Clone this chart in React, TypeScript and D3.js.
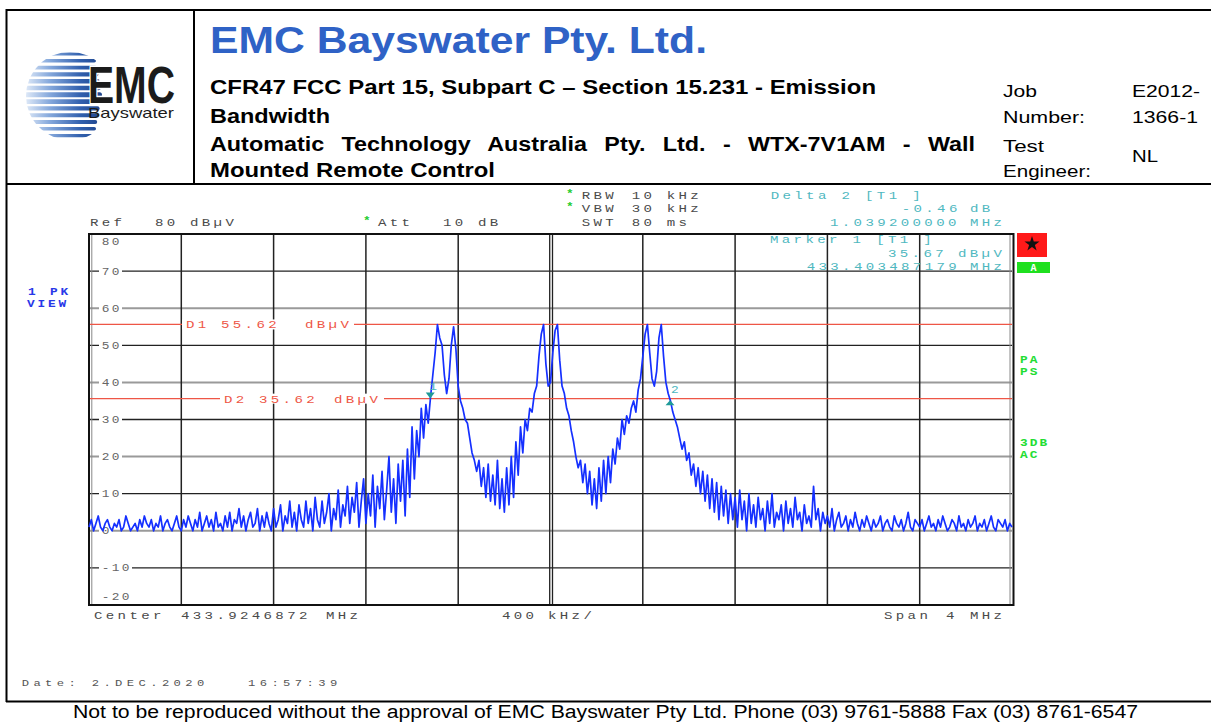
import React, { useEffect, useRef } from "react";
import * as d3 from "d3";

// sweep: 401 points, 10 kHz apart, relative to the centre frequency
const sweepStartKHz = -2000;
const sweepStepKHz = 10;
const traceLevels = [
  1, 3, 0, 2, 4, 1, 0, 2, 3, 1, 0, 2, 1, 3, 0, 1, 4, 2, 0, 1,
  2, 0, 3, 1, 4, 2, 1, 3, 0, 2, 1, 4, 0, 2, 3, 1, 0, 2, 4, 1,
  0, 3, 1, 4, 2, 0, 3, 1, 5, 0, 2, 4, 1, 3, 0, 5, 1, 2, 0, 4,
  1, 5, 0, 3, 2, 6, 1, 4, 0, 3, 5, 1, 2, 6, 0, 4, 1, 5, 2, 0,
  6, 1, 3, 7, 0, 4, 2, 8, 1, 5, 0, 7, 3, 1, 8, 2, 6, 0, 9, 3,
  1, 8, 2, 5, 10, 0, 6, 3, 11, 1, 7, 4, 12, 2, 9, 5, 13, 1, 8, 14,
  2, 10, 4, 15, 1, 12, 6, 16, 3, 11, 20, 5, 14, 2, 18, 8, 19, 4, 22, 9,
  28, 14, 27, 20, 33, 25, 34, 29, 36, 42, 48, 55.6, 52, 50, 42, 37, 41, 50, 55, 49,
  39, 35, 33, 30, 29, 25, 21, 19, 16, 19, 12, 17, 9, 18, 8, 15, 7, 19, 6, 14,
  5, 17, 7, 20, 9, 24, 15, 28, 21, 30, 27, 33, 32, 37, 39, 47, 53, 55.6, 45, 39,
  40, 48, 54, 55.6, 46, 39, 37, 33, 31, 27, 24, 20, 17, 19, 13, 18, 10, 16, 7, 14,
  6, 17, 8, 19, 10, 20, 13, 22, 18, 25, 22, 30, 26, 31, 29, 33, 35, 32, 38, 41,
  47, 53, 55.6, 48, 41, 39, 43, 52, 55.6, 47, 40, 37, 35, 32, 30, 28, 25, 22, 24, 19,
  21, 15, 18, 12, 17, 10, 16, 8, 15, 6, 14, 5, 13, 3, 12, 4, 11, 2, 10, 3,
  9, 1, 11, 3, 8, 0, 10, 2, 7, 1, 9, 3, 6, 0, 8, 2, 10, 1, 5, 3,
  7, 0, 8, 2, 6, 1, 9, 3, 5, 0, 7, 2, 4, 1, 12, 3, 6, 0, 5, 2,
  4, 1, 6, 0, 3, 5, 1, 2, 4, 0, 3, 1, 5, 2, 0, 3, 1, 4, 2, 0,
  3, 1, 2, 4, 0, 2, 3, 1, 0, 4, 2, 1, 3, 0, 2, 5, 1, 0, 3, 2,
  1, 3, 0, 2, 4, 1, 2, 0, 3, 1, 4, 2, 0, 1, 3, 2, 0, 4, 1, 2,
  0, 3, 1, 2, 4, 0, 2, 1, 3, 0, 2, 4, 1, 0, 3, 2, 1, 3, 0, 2,
  1,
];

const yTicks = [70, 60, 50, 40, 30, 20, 10, 0, -10];
const grayTicks = [60, 40, 20, 0];
const xTicks = [-1600, -1200, -800, -400, 400, 800, 1200, 1600];

const displayLines = [
  { name: "D1", level: 55.62, value: "55.62" },
  { name: "D2", level: 35.62, value: "35.62" },
];

const markers = [
  { id: "1", offsetKHz: -521.2, level: 35.67 },
  { id: "2", offsetKHz: 518.0, level: 35.21 },
];

const W = 1211;
const H = 722;
const plot = { left: 89, right: 1012, top: 234, bottom: 605 };

const mono = "'Liberation Mono', 'DejaVu Sans Mono', monospace";
const sans = "'Liberation Sans', Arial, sans-serif";

function Mono({ x, y, text, adv = 11.8, size = 11, sx = 1.28, fill = "#4a4a4a", weight = "normal" }) {
  const ls = adv / sx - size * 0.6;
  return (
    <text
      transform={`translate(${x},${y}) scale(${sx},1)`}
      fontFamily={mono}
      fontSize={size}
      fontWeight={weight}
      fill={fill}
      style={{ letterSpacing: `${ls}px`, whiteSpace: "pre" }}
    >
      {text}
    </text>
  );
}

function Logo() {
  const stripes = d3.range(13);
  return (
    <g>
      <defs>
        <clipPath id="globe">
          <circle cx={70} cy={96} r={44} />
        </clipPath>
        <linearGradient id="stripeGrad" x1="26" x2="104" y1="0" y2="0" gradientUnits="userSpaceOnUse">
          <stop offset="0" stopColor="#dde8f7" />
          <stop offset="0.3" stopColor="#86a9dc" />
          <stop offset="0.7" stopColor="#3160ae" />
          <stop offset="1" stopColor="#1d4288" />
        </linearGradient>
      </defs>
      <g clipPath="url(#globe)">
        {stripes.map((k) => {
          const t = 5 - 0.3 * Math.abs(k - 6);
          const len = 78 - 1.2 * Math.abs(k - 6);
          return <rect key={k} x={24} y={54 + k * 6.8 - t / 2} width={len} height={t} rx={t / 2} fill="url(#stripeGrad)" />;
        })}
      </g>
      <text x={88} y={103} fontFamily={sans} fontWeight="bold" fontSize={52} fill="#1b1b1b"
        textLength={87} lengthAdjust="spacingAndGlyphs" stroke="#fff" strokeWidth={3} style={{ paintOrder: "stroke" }}>EMC</text>
      <text x={88} y={118} fontFamily={sans} fontSize={14.5} fill="#1b1b1b"
        textLength={86} lengthAdjust="spacingAndGlyphs">Bayswater</text>
    </g>
  );
}

export default function App() {
  const autoRef = useRef<SVGTextElement>(null);

  useEffect(() => {
    const el = autoRef.current;
    if (!el) return;
    const target = 765;
    const stretch = 1.167;
    const natural = el.getComputedTextLength();
    const spaces = (el.textContent || "").split(" ").length - 1;
    const extra = (target / stretch - natural) / spaces;
    if (extra > 0) el.setAttribute("word-spacing", String(extra));
    el.setAttribute("textLength", String(target));
    el.setAttribute("lengthAdjust", "spacingAndGlyphs");
  }, []);

  const x = d3.scaleLinear().domain([-2000, 2000]).range([plot.left, plot.right]);
  const y = d3.scaleLinear().domain([-20, 80]).range([plot.bottom, plot.top]);
  const line = d3
    .line<number>()
    .x((_, i) => x(sweepStartKHz + i * sweepStepKHz))
    .y((d) => y(d));

  const teal = "#4fb8bf";
  const red = "#ee5646";

  return (
    <svg width={W} height={H} style={{ position: "absolute", left: 0, top: 0, background: "#fff" }}>
      {/* page frame */}
      <line x1={6} x2={W} y1={10} y2={10} stroke="#000" strokeWidth={2} />
      <line x1={6.5} x2={6.5} y1={9} y2={702} stroke="#000" strokeWidth={2} />
      <line x1={194} x2={194} y1={10} y2={184} stroke="#000" strokeWidth={2} />
      <line x1={6} x2={W} y1={184} y2={184} stroke="#000" strokeWidth={2} />
      <line x1={6} x2={W} y1={701.5} y2={701.5} stroke="#000" strokeWidth={2} />

      <Logo />

      {/* header texts */}
      <text x={210} y={53} fontFamily={sans} fontWeight="bold" fontSize={37} fill="#2f62c6"
        textLength={497} lengthAdjust="spacingAndGlyphs">EMC Bayswater Pty. Ltd.</text>
      <g fontFamily={sans} fontWeight="bold" fontSize={20} fill="#000">
        <text x={210} y={94} textLength={666} lengthAdjust="spacingAndGlyphs">CFR47 FCC Part 15, Subpart C – Section 15.231 - Emission</text>
        <text x={210} y={122.5} textLength={120} lengthAdjust="spacingAndGlyphs">Bandwidth</text>
        <text ref={autoRef} x={210} y={150.7}>Automatic Technology Australia Pty. Ltd. - WTX-7V1AM - Wall</text>
        <text x={210} y={176.7} textLength={285} lengthAdjust="spacingAndGlyphs">Mounted Remote Control</text>
      </g>
      <g fontFamily={sans} fontSize={17} fill="#000">
        <text x={1003} y={96.7} textLength={34} lengthAdjust="spacingAndGlyphs">Job</text>
        <text x={1003} y={123.3} textLength={82} lengthAdjust="spacingAndGlyphs">Number:</text>
        <text x={1003} y={151.7} textLength={41} lengthAdjust="spacingAndGlyphs">Test</text>
        <text x={1003} y={176.7} textLength={88} lengthAdjust="spacingAndGlyphs">Engineer:</text>
        <text x={1132} y={96.7} textLength={68} lengthAdjust="spacingAndGlyphs">E2012-</text>
        <text x={1132} y={123.3} textLength={66} lengthAdjust="spacingAndGlyphs">1366-1</text>
        <text x={1132} y={161.7} textLength={26} lengthAdjust="spacingAndGlyphs">NL</text>
      </g>

      {/* analyser settings */}
      <Mono x={90} y={226} text="Ref" />
      <Mono x={155} y={226} text="80" />
      <Mono x={190} y={226} text="dBµV" />
      <Mono x={363} y={224} text="*" fill="#22cc33" size={10} weight="bold" />
      <Mono x={378} y={226} text="Att" />
      <Mono x={443} y={226} text="10" />
      <Mono x={478} y={226} text="dB" />

      <Mono x={566} y={197} text="*" fill="#22cc33" size={10} weight="bold" />
      <Mono x={581.7} y={199} text="RBW" />
      <Mono x={631.7} y={199} text="10" />
      <Mono x={666.7} y={199} text="kHz" />
      <Mono x={566} y={210.3} text="*" fill="#22cc33" size={10} weight="bold" />
      <Mono x={581.7} y={212.3} text="VBW" />
      <Mono x={631.7} y={212.3} text="30" />
      <Mono x={666.7} y={212.3} text="kHz" />
      <Mono x={581.7} y={225.7} text="SWT" />
      <Mono x={631.7} y={225.7} text="80" />
      <Mono x={666.7} y={225.7} text="ms" />

      <Mono x={770.7} y={199} text="Delta 2 [T1 ]" fill={teal} />
      <Mono x={901.7} y={212.3} text="-0.46" fill={teal} />
      <Mono x={970} y={212.3} text="dB" fill={teal} />
      <Mono x={830} y={225.7} text="1.039200000" fill={teal} />
      <Mono x={970} y={225.7} text="MHz" fill={teal} />

      {/* grid */}
      {yTicks.map((v) => (
        <line key={v} x1={plot.left} x2={plot.right} y1={y(v)} y2={y(v)}
          stroke={grayTicks.includes(v) ? "#9a9a9a" : "#222"}
          strokeWidth={grayTicks.includes(v) ? 2 : 1.3} />
      ))}
      {xTicks.map((v) => (
        <line key={v} x1={x(v)} x2={x(v)} y1={plot.top} y2={plot.bottom} stroke="#222" strokeWidth={1.5} />
      ))}
      <line x1={x(0) - 0.8} x2={x(0) - 0.8} y1={plot.top} y2={plot.bottom} stroke="#222" strokeWidth={1.3} />
      <line x1={x(0) + 2} x2={x(0) + 2} y1={plot.top} y2={plot.bottom} stroke="#222" strokeWidth={1.3} />
      <line x1={plot.left + 2.8} x2={plot.left + 2.8} y1={plot.top} y2={plot.bottom} stroke="#888" strokeWidth={1} />
      <line x1={plot.right - 2} x2={plot.right - 2} y1={plot.top} y2={plot.bottom} stroke="#888" strokeWidth={1} />
      <rect x={plot.left} y={plot.top} width={plot.right - plot.left + 1.5} height={plot.bottom - plot.top}
        fill="none" stroke="#111" strokeWidth={2} />

      {/* y labels */}
      {yTicks.map((v) => {
        const label = v < 0 ? "-" + Math.abs(v) : String(v);
        const w = label.length * 10 + 3;
        return (
          <g key={v}>
            <rect x={99} y={y(v) - 4} width={w} height={8} fill="#fff" />
            <Mono x={101.7} y={y(v) + 3.5} text={label} adv={10} size={10} fill="#666" />
          </g>
        );
      })}
      <Mono x={101.7} y={245} text="80" adv={10} size={10} fill="#666" />
      <Mono x={101.7} y={600} text="-20" adv={10} size={10} fill="#666" />

      {/* marker readout inside the grid */}
      <Mono x={770} y={243.3} text="Marker 1 [T1 ]" fill={teal} />
      <Mono x={888} y={256.7} text="35.67" fill={teal} />
      <Mono x={958} y={256.7} text="dBµV" fill={teal} />
      <Mono x={806.7} y={270} text="433.403487179" fill={teal} />
      <Mono x={970} y={270} text="MHz" fill={teal} />

      {/* display lines */}
      {displayLines.map((d, i) => {
        const yy = y(d.level);
        const lx = i === 0 ? 186 : 224;
        return (
          <g key={d.name}>
            <line x1={plot.left + 1} x2={plot.right} y1={yy} y2={yy} stroke={red} strokeWidth={1.2} />
            <rect x={lx - 4} y={yy - 5} width={i === 0 ? 172 : 164} height={10} fill="#fff" />
            <Mono x={lx} y={yy + 4} text={d.name} fill={red} />
            <Mono x={lx + 35} y={yy + 4} text={d.value} fill={red} />
            <Mono x={lx + (i === 0 ? 119 : 110)} y={yy + 4} text="dBµV" fill={red} />
          </g>
        );
      })}

      {/* trace */}
      <path d={line(traceLevels) || ""} fill="none" stroke="#1530ff" strokeWidth={1.7} strokeLinejoin="round" />

      {/* markers */}
      {markers.map((m) => {
        const mx = x(m.offsetKHz);
        const my = y(m.level);
        const down = m.id === "1";
        const tri = down
          ? `M${mx - 4.5},${my - 6} L${mx + 4.5},${my - 6} L${mx},${my} Z`
          : `M${mx - 4.5},${my + 5} L${mx + 4.5},${my + 5} L${mx},${my} Z`;
        return (
          <g key={m.id}>
            <path d={tri} fill="#1f9a98" />
            <Mono x={down ? mx - 1 : mx + 1} y={down ? my - 8 : my - 7} text={m.id} fill={teal} size={10} />
          </g>
        );
      })}

      {/* x axis texts */}
      <Mono x={94} y={619} text="Center" />
      <Mono x={181} y={619} text="433.9246872" />
      <Mono x={326} y={619} text="MHz" />
      <Mono x={502} y={619} text="400" />
      <Mono x={548} y={619} text="kHz/" />
      <Mono x={884} y={619} text="Span" />
      <Mono x={946} y={619} text="4" />
      <Mono x={970} y={619} text="MHz" />

      {/* side indicators */}
      <Mono x={28} y={295} text="1" fill="#2838e8" weight="bold" adv={10.5} size={10} />
      <Mono x={50} y={295} text="PK" fill="#2838e8" weight="bold" adv={10.5} size={10} />
      <Mono x={27} y={306.5} text="VIEW" fill="#2838e8" weight="bold" adv={10.5} size={10} />

      <rect x={1017} y={233} width={30} height={24} fill="#ff1a1a" />
      <path d={d3.symbol(d3.symbolStar, 70)() || ""} transform="translate(1032,244)" fill="#111" />
      <rect x={1017} y={262} width={33} height={11} fill="#1fe01f" />
      <text x={1033.5} y={271} textAnchor="middle" fontFamily={mono} fontWeight="bold" fontSize={10} fill="#fff">A</text>

      <Mono x={1020} y={363} text="PA" fill="#22dd33" weight="bold" adv={9.8} size={10} />
      <Mono x={1020} y={375} text="PS" fill="#22dd33" weight="bold" adv={9.8} size={10} />
      <Mono x={1020} y={445.5} text="3DB" fill="#22dd33" weight="bold" adv={9.8} size={10} />
      <Mono x={1020} y={457.5} text="AC" fill="#22dd33" weight="bold" adv={9.8} size={10} />

      {/* date */}
      <Mono x={21.7} y={686} text="Date:" adv={11.7} size={9.5} fill="#555" />
      <Mono x={91.7} y={686} text="2.DEC.2020" adv={11.7} size={9.5} fill="#555" />
      <Mono x={248} y={686} text="16:57:39" adv={11.7} size={9.5} fill="#555" />

      {/* footer */}
      <text x={73} y={717.5} fontFamily={sans} fontSize={18} fill="#000" textLength={1065} lengthAdjust="spacingAndGlyphs">
        Not to be reproduced without the approval of EMC Bayswater Pty Ltd. Phone (03) 9761-5888 Fax (03) 8761-6547
      </text>
    </svg>
  );
}
